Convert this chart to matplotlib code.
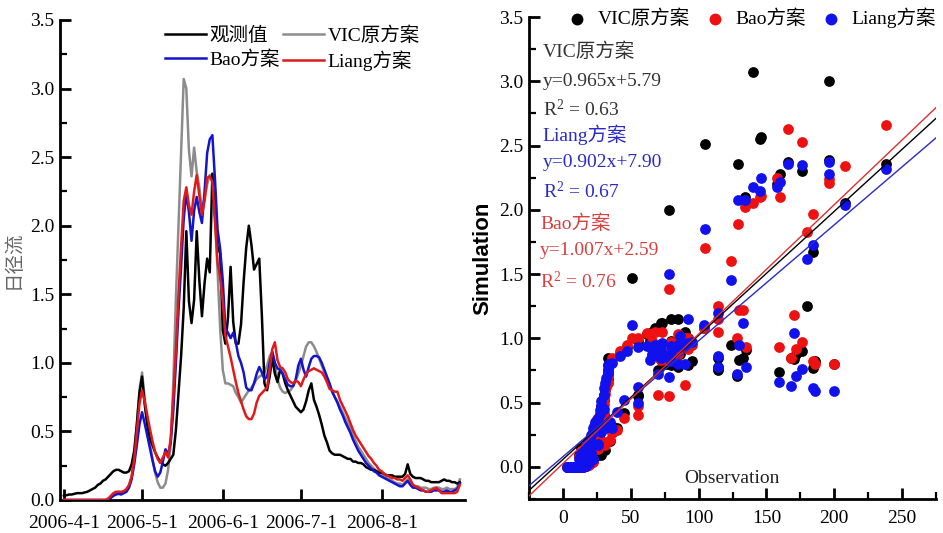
import matplotlib
matplotlib.use('Agg')
import matplotlib.pyplot as plt
from matplotlib.ticker import MultipleLocator, FormatStrFormatter
import numpy as np
import pandas as pd

plt.rcParams['font.family'] = ['Liberation Serif', 'Noto Sans CJK SC']
plt.rcParams['mathtext.fontset'] = 'custom'
plt.rcParams['mathtext.rm'] = 'Liberation Serif'
plt.rcParams['mathtext.it'] = 'Liberation Serif:italic'

# ---------------- data ----------------
start_date = '2006-04-01'
end_date = '2006-08-31'

# observed daily runoff (观测值)
obs = [0.03, 0.035, 0.04, 0.04, 0.045, 0.05, 0.05, 0.05, 0.055, 0.06,
       0.07, 0.08, 0.09, 0.11, 0.12, 0.14, 0.15, 0.17, 0.19, 0.21,
       0.22, 0.22, 0.21, 0.20, 0.20, 0.21, 0.26, 0.36, 0.55, 0.78,
       0.90, 0.70, 0.55, 0.45, 0.40, 0.35, 0.31, 0.28, 0.26, 0.25,
       0.27, 0.30, 0.33, 0.51, 0.78, 1.05, 1.40, 1.96, 1.45, 1.29,
       1.46, 1.96, 1.60, 1.34, 1.58, 1.76, 1.66, 2.38, 2.08, 1.84,
       1.80, 1.24, 1.14, 1.33, 1.70, 1.30, 1.14, 1.14, 1.28, 1.59,
       1.84, 2.00, 1.86, 1.68, 1.72, 1.76, 1.35, 0.85, 0.80, 0.90,
       1.04, 0.92, 0.86, 0.95, 0.92, 0.85, 0.80, 0.76, 0.72, 0.68,
       0.66, 0.64, 0.66, 0.72, 0.80, 0.85, 0.73, 0.68, 0.62, 0.55,
       0.47, 0.42, 0.36, 0.34, 0.33, 0.33, 0.33, 0.32, 0.31, 0.30,
       0.30, 0.28, 0.28, 0.27, 0.27, 0.26, 0.24, 0.23, 0.22, 0.22,
       0.21, 0.20, 0.20, 0.19, 0.18, 0.18, 0.18, 0.17, 0.17, 0.17,
       0.17, 0.19, 0.26, 0.19, 0.17, 0.16, 0.16, 0.16, 0.15, 0.14,
       0.14, 0.13, 0.13, 0.13, 0.13, 0.14, 0.15, 0.14, 0.14, 0.13,
       0.13, 0.12, 0.13]

# VIC original scheme (VIC原方案)
vic = [0, 0, 0, 0, 0, 0, 0, 0, 0, 0,
       0, 0, 0, 0, 0, 0, 0, 0.01, 0.02, 0.04,
       0.05, 0.06, 0.05, 0.06, 0.07, 0.10, 0.17, 0.32, 0.55, 0.80,
       0.93, 0.75, 0.56, 0.42, 0.30, 0.20, 0.13, 0.09, 0.09, 0.12,
       0.22, 0.40, 0.85, 1.47, 2.00, 2.51, 3.07, 3.00, 2.55, 2.36,
       2.57, 2.39, 2.28, 2.10, 2.20, 2.30, 2.37, 2.36, 2.05, 1.67,
       1.25, 0.95, 0.85, 0.85, 0.84, 0.83, 0.78, 0.75, 0.71, 0.74,
       0.77, 0.80, 0.82, 0.85, 0.88, 0.90, 0.91, 0.93, 0.98, 1.05,
       1.08, 1.00, 0.88, 0.82, 0.79, 0.78, 0.79, 0.80, 0.83, 0.87,
       0.92, 0.98, 1.05, 1.12, 1.15, 1.15, 1.12, 1.08, 1.03, 0.98,
       0.93, 0.88, 0.84, 0.79, 0.75, 0.72, 0.68, 0.64, 0.60, 0.56,
       0.52, 0.47, 0.43, 0.39, 0.36, 0.33, 0.30, 0.27, 0.25, 0.23,
       0.21, 0.19, 0.18, 0.17, 0.16, 0.15, 0.14, 0.13, 0.12, 0.12,
       0.11, 0.13, 0.15, 0.12, 0.11, 0.10, 0.10, 0.09, 0.09, 0.09,
       0.08, 0.08, 0.09, 0.09, 0.09, 0.08, 0.08, 0.09, 0.08, 0.08,
       0.08, 0.09, 0.15]

# Bao scheme (Bao方案)
bao = [0, 0, 0, 0, 0, 0, 0, 0, 0, 0,
       0, 0, 0, 0, 0, 0, 0, 0.005, 0.015, 0.03,
       0.04, 0.045, 0.04, 0.05, 0.06, 0.09, 0.15, 0.26, 0.40, 0.55,
       0.64, 0.56, 0.47, 0.38, 0.29, 0.21, 0.17, 0.20, 0.28, 0.37,
       0.33, 0.42, 0.65, 1.00, 1.38, 1.70, 2.05, 2.24, 2.10, 1.89,
       2.11, 2.21, 2.10, 2.02, 2.25, 2.53, 2.63, 2.66, 2.34, 1.97,
       1.83, 1.60, 1.25, 1.22, 1.18, 1.22, 1.15, 1.05, 1.00, 0.93,
       0.82, 0.80, 0.80, 0.85, 0.92, 0.97, 0.93, 0.88, 0.90, 1.00,
       1.08, 1.00, 0.96, 0.95, 0.92, 0.88, 0.84, 0.83, 0.83, 0.88,
       0.98, 1.03, 0.95, 0.90, 0.97, 1.03, 1.05, 1.05, 1.04, 1.00,
       0.95, 0.90, 0.85, 0.79, 0.75, 0.71, 0.66, 0.62, 0.57, 0.53,
       0.49, 0.44, 0.40, 0.36, 0.33, 0.30, 0.27, 0.25, 0.23, 0.21,
       0.20, 0.18, 0.17, 0.16, 0.15, 0.14, 0.13, 0.12, 0.11, 0.10,
       0.10, 0.12, 0.14, 0.11, 0.09, 0.09, 0.08, 0.07, 0.07, 0.06,
       0.06, 0.06, 0.07, 0.07, 0.07, 0.06, 0.06, 0.07, 0.06, 0.06,
       0.07, 0.08, 0.12]

# Liang scheme (Liang方案)
liang = [0, 0, 0, 0, 0, 0, 0, 0, 0, 0,
         0, 0, 0, 0, 0, 0, 0, 0.01, 0.03, 0.05,
         0.06, 0.06, 0.06, 0.065, 0.08, 0.11, 0.17, 0.30, 0.50, 0.70,
         0.80, 0.72, 0.62, 0.52, 0.43, 0.35, 0.30, 0.27, 0.31, 0.35,
         0.31, 0.45, 0.75, 1.10, 1.50, 1.85, 2.18, 2.28, 2.15, 2.08,
         2.25, 2.37, 2.22, 2.08, 2.18, 2.35, 2.36, 2.32, 2.04, 1.73,
         1.62, 1.45, 1.20, 1.12, 1.04, 0.95, 0.86, 0.78, 0.72, 0.66,
         0.61, 0.59, 0.59, 0.63, 0.71, 0.76, 0.78, 0.80, 0.82, 0.95,
         1.10, 1.15, 1.02, 0.97, 0.96, 0.93, 0.88, 0.86, 0.85, 0.87,
         0.86, 0.83, 0.88, 0.92, 0.94, 0.95, 0.96, 0.95, 0.94, 0.93,
         0.90, 0.86, 0.81, 0.80, 0.79, 0.79, 0.73, 0.69, 0.65, 0.61,
         0.56, 0.51, 0.47, 0.44, 0.41, 0.38, 0.35, 0.32, 0.30, 0.27,
         0.25, 0.22, 0.21, 0.19, 0.18, 0.17, 0.16, 0.16, 0.15, 0.15,
         0.14, 0.16, 0.18, 0.15, 0.11, 0.10, 0.09, 0.08, 0.07, 0.06,
         0.06, 0.07, 0.08, 0.09, 0.07, 0.05, 0.05, 0.05, 0.05, 0.05,
         0.05, 0.06, 0.11]

series_labels = ['观测值', 'VIC原方案', 'Bao方案', 'Liang方案']
month_ticks = ['2006-04-01', '2006-05-01', '2006-06-01', '2006-07-01', '2006-08-01']
month_tick_labels = ['2006-4-1', '2006-5-1', '2006-6-1', '2006-7-1', '2006-8-1']

# regression results shown on the scatter panel
fit_names = ['VIC原方案', 'Liang方案', 'Bao方案']
fit_slopes = [0.965, 0.902, 1.007]
fit_intercepts = [5.79, 7.90, 2.59]
fit_r2 = [0.63, 0.67, 0.76]

# ---------------- styles ----------------
C_OBS = '#000000'
C_VIC = '#8c8c8c'
C_BLUE = '#1414cc'
C_RED = '#e01a1a'
FS = 14

dates = pd.date_range(start_date, end_date, freq='D')
obs_a = np.array(obs)
vic_a = np.array(vic)
bao_a = np.array(bao)
liang_a = np.array(liang)

fig = plt.figure(figsize=(9.43, 5.33), dpi=100)

# ---------------- left: time series ----------------
ax1 = fig.add_axes([60/943, 1-500/533, 405/943, 480/533])
l_vic, = ax1.plot(dates, vic_a, color=C_VIC, lw=1.8, zorder=2)
l_obs, = ax1.plot(dates, obs_a, color=C_OBS, lw=1.8, zorder=3)
l_bao, = ax1.plot(dates, bao_a, color=C_BLUE, lw=1.8, zorder=4)
l_liang, = ax1.plot(dates, liang_a, color=C_RED, lw=1.8, zorder=5)

ax1.set_ylim(0, 3.5)
ax1.set_xlim(pd.Timestamp('2006-03-30 12:00'), pd.Timestamp('2006-09-02'))
ax1.yaxis.set_major_locator(MultipleLocator(0.5))
ax1.yaxis.set_minor_locator(MultipleLocator(0.25))
ax1.yaxis.set_major_formatter(FormatStrFormatter('%.1f'))
ax1.set_xticks([pd.Timestamp(t) for t in month_ticks])
ax1.set_xticklabels(month_tick_labels)
for s in ['top', 'right']:
    ax1.spines[s].set_visible(False)
for s in ['left', 'bottom']:
    ax1.spines[s].set_linewidth(2)
ax1.tick_params(which='major', direction='in', length=8, width=2, labelsize=FS, pad=4)
ax1.tick_params(which='minor', direction='in', length=5, width=1.6)
ax1.tick_params(axis='x', which='major', pad=11)
ax1.set_ylabel('日径流', fontsize=14, color='#666666', labelpad=5)

leg1 = ax1.legend([l_obs, l_bao, l_vic, l_liang],
                  [series_labels[0], series_labels[2], series_labels[1], series_labels[3]],
                  ncol=2, frameon=False,
                  loc='upper left', bbox_to_anchor=(0.24, 1.003), fontsize=FS,
                  handlelength=2.1, handletextpad=0.2, columnspacing=0.15,
                  labelspacing=0.3, borderaxespad=0)

# ---------------- right: scatter ----------------
ax2 = fig.add_axes([529/943, 1-499/533, 407/943, 482/533])
x_obs = obs_a * 100
s_vic = ax2.scatter(x_obs, vic_a, s=60, color='black', zorder=2, linewidths=0)
s_bao = ax2.scatter(x_obs, bao_a, s=60, color='#ee1111', zorder=3, linewidths=0)
s_liang = ax2.scatter(x_obs, liang_a, s=60, color='#1111ee', zorder=4, linewidths=0)

xx = np.array([-25, 275])
line_cols = {'VIC原方案': 'black', 'Liang方案': '#2a2ac8', 'Bao方案': '#d83030'}
for name, a, b in zip(fit_names, fit_slopes, fit_intercepts):
    ax2.plot(xx, (a * xx + b) / 100, color=line_cols[name], lw=1.0, zorder=6)

ax2.set_xlim(-25, 275)
ax2.set_ylim(-0.25, 3.5)
ax2.xaxis.set_major_locator(MultipleLocator(50))
ax2.xaxis.set_minor_locator(MultipleLocator(25))
ax2.yaxis.set_major_locator(MultipleLocator(0.5))
ax2.yaxis.set_minor_locator(MultipleLocator(0.25))
ax2.yaxis.set_major_formatter(FormatStrFormatter('%.1f'))
for s in ['top', 'right']:
    ax2.spines[s].set_visible(False)
for s in ['left', 'bottom']:
    ax2.spines[s].set_linewidth(2)
ax2.tick_params(which='major', direction='in', length=8, width=2, labelsize=FS, pad=4)
ax2.tick_params(which='minor', direction='in', length=5, width=1.6)
ax2.tick_params(axis='x', which='major', pad=8)
ax2.set_ylabel('Simulation', fontsize=16, fontweight='bold',
               family=['Liberation Sans', 'DejaVu Sans'], labelpad=4)
ax2.text(0.499, 0.0415, 'Observation', transform=ax2.transAxes, ha='center',
         va='center', fontsize=FS, color='#222222')

leg2 = ax2.legend([s_vic, s_bao, s_liang], ['VIC原方案', 'Bao方案', 'Liang方案'], ncol=3,
                  frameon=False, loc='upper left', bbox_to_anchor=(0.07, 1.035),
                  fontsize=FS, handlelength=1.2, handletextpad=0.45, columnspacing=0.7,
                  borderaxespad=0, scatterpoints=1, markerscale=1.1)

text_cols = {'VIC原方案': '#333333', 'Liang方案': '#2a2ac8', 'Bao方案': '#d84040'}
ys = [[0.927, 0.867, 0.808], [0.755, 0.698, 0.637], [0.572, 0.515, 0.452]]
xs = [0.034, 0.034, 0.027]
for (name, a, b, r2), yy, x0 in zip(zip(fit_names, fit_slopes, fit_intercepts, fit_r2), ys, xs):
    c = text_cols[name]
    ax2.text(x0, yy[0], name, transform=ax2.transAxes, fontsize=FS, color=c, va='center')
    ax2.text(x0, yy[1], 'y=%.3fx+%.2f' % (a, b), transform=ax2.transAxes, fontsize=FS,
             color=c, va='center')
    ax2.text(x0, yy[2], 'R$^2$ = %.2f' % r2, transform=ax2.transAxes, fontsize=FS,
             color=c, va='center')

fig.savefig('out.png', dpi=100)
